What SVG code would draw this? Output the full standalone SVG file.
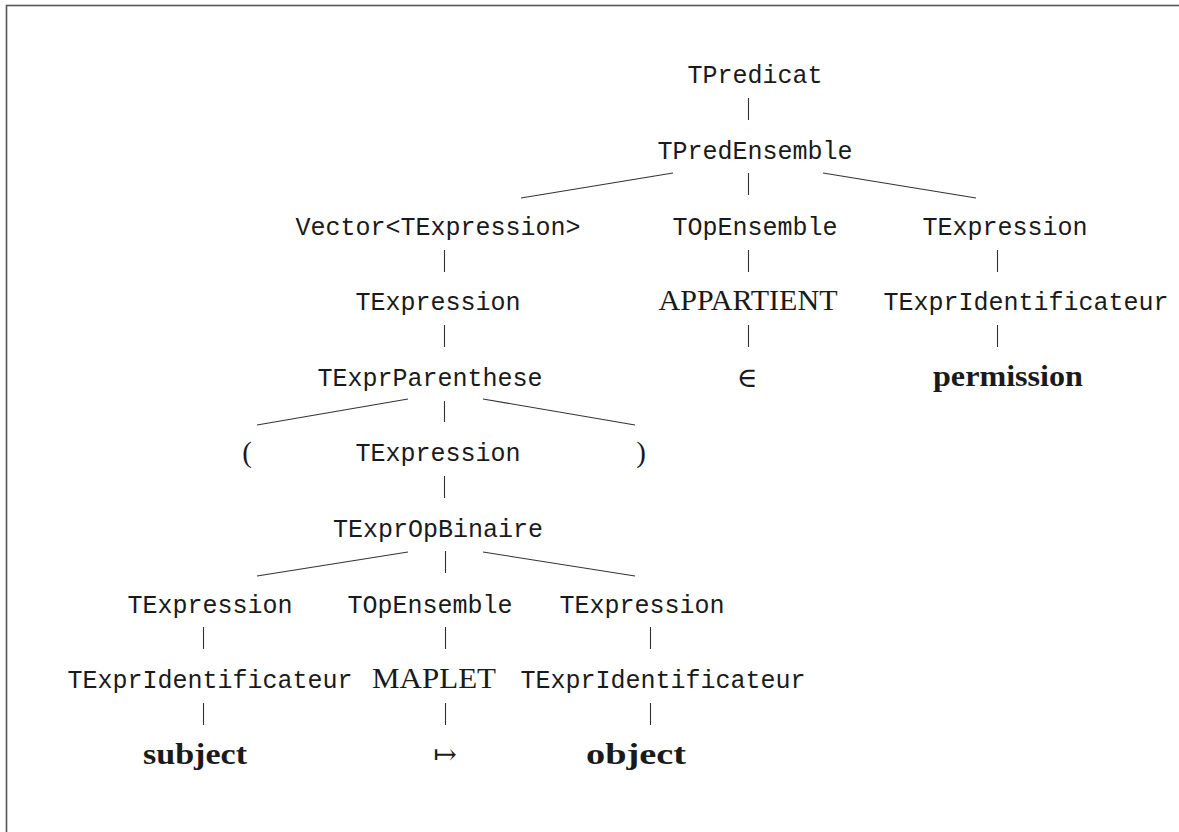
<svg xmlns="http://www.w3.org/2000/svg" width="1179" height="832" viewBox="0 0 1179 832">
<style>
.bg{fill:#fff}
.frame{fill:none;stroke:#555;stroke-width:1.6}
.tt{font-family:"Liberation Mono","DejaVu Sans Mono",monospace;font-size:25px;fill:#1a1a1a;text-anchor:middle}
.rm{font-family:"Liberation Serif","DejaVu Serif",serif;font-size:29px;fill:#1a1a1a;text-anchor:middle}
.bf{font-family:"Liberation Serif","DejaVu Serif",serif;font-size:30px;font-weight:bold;fill:#1a1a1a;text-anchor:middle}
.sym{font-family:"DejaVu Serif","Liberation Serif",serif;font-size:28px;fill:#1a1a1a;text-anchor:middle}
.edge{stroke:#333;stroke-width:1.1;fill:none}
</style>
<rect class="bg" x="0" y="0" width="1179" height="832"/>
<rect class="frame" x="6.5" y="5.5" width="1200" height="900"/>
<g id="connectors">
<line class="edge" x1="748.5" y1="98" x2="748.5" y2="120"/>
<line class="edge" x1="748.5" y1="173" x2="748.5" y2="195"/>
<line class="edge" x1="673" y1="173" x2="521" y2="198"/>
<line class="edge" x1="823" y1="173" x2="976" y2="198"/>
<line class="edge" x1="444.5" y1="250" x2="444.5" y2="272"/>
<line class="edge" x1="748.5" y1="250" x2="748.5" y2="272"/>
<line class="edge" x1="997.5" y1="250" x2="997.5" y2="272"/>
<line class="edge" x1="444.5" y1="325" x2="444.5" y2="347"/>
<line class="edge" x1="748.5" y1="325" x2="748.5" y2="347"/>
<line class="edge" x1="997.5" y1="325" x2="997.5" y2="347"/>
<line class="edge" x1="444.5" y1="401" x2="444.5" y2="422"/>
<line class="edge" x1="408" y1="399" x2="257" y2="425"/>
<line class="edge" x1="483" y1="399" x2="635" y2="425"/>
<line class="edge" x1="444.5" y1="476" x2="444.5" y2="498"/>
<line class="edge" x1="445.5" y1="551" x2="445.5" y2="573"/>
<line class="edge" x1="408" y1="552" x2="257" y2="576"/>
<line class="edge" x1="483" y1="552" x2="635" y2="576"/>
<line class="edge" x1="203.5" y1="627" x2="203.5" y2="649"/>
<line class="edge" x1="445.5" y1="627" x2="445.5" y2="649"/>
<line class="edge" x1="650.5" y1="627" x2="650.5" y2="649"/>
<line class="edge" x1="203.5" y1="703" x2="203.5" y2="725"/>
<line class="edge" x1="445.5" y1="703" x2="445.5" y2="725"/>
<line class="edge" x1="650.5" y1="703" x2="650.5" y2="725"/>
</g>
<g id="n-tpredicat"><text class="tt" x="755" y="83">TPredicat</text></g>
<g id="n-tpredensemble"><text class="tt" x="755" y="159">TPredEnsemble</text></g>
<g id="n-vector"><text class="tt" x="438" y="235">Vector&lt;TExpression&gt;</text></g>
<g id="n-topensemble1"><text class="tt" x="755" y="235">TOpEnsemble</text></g>
<g id="n-texpression-r"><text class="tt" x="1005" y="235">TExpression</text></g>
<g id="n-texpression-a"><text class="tt" x="438" y="310">TExpression</text></g>
<g id="n-appartient"><text class="rm" x="748" y="310" textLength="179" lengthAdjust="spacingAndGlyphs">APPARTIENT</text></g>
<g id="n-texprid-r"><text class="tt" x="1026" y="310">TExprIdentificateur</text></g>
<g id="n-texprparenthese"><text class="tt" x="430" y="386">TExprParenthese</text></g>
<g id="n-in"><text class="sym" x="747" y="387">∈</text></g>
<g id="n-permission"><text class="bf" x="1008" y="386" textLength="150" lengthAdjust="spacingAndGlyphs">permission</text></g>
<g id="n-lparen"><text class="rm" x="247" y="462">(</text></g>
<g id="n-texpression-b"><text class="tt" x="438" y="461">TExpression</text></g>
<g id="n-rparen"><text class="rm" x="641" y="462">)</text></g>
<g id="n-texpropbinaire"><text class="tt" x="438" y="537">TExprOpBinaire</text></g>
<g id="n-texpression-l"><text class="tt" x="210" y="613">TExpression</text></g>
<g id="n-topensemble2"><text class="tt" x="430" y="613">TOpEnsemble</text></g>
<g id="n-texpression-m"><text class="tt" x="642" y="613">TExpression</text></g>
<g id="n-texprid-l"><text class="tt" x="210" y="688">TExprIdentificateur</text></g>
<g id="n-maplet"><text class="rm" x="434" y="688" textLength="124" lengthAdjust="spacingAndGlyphs">MAPLET</text></g>
<g id="n-texprid-m"><text class="tt" x="663" y="688">TExprIdentificateur</text></g>
<g id="n-subject"><text class="bf" x="195" y="764" textLength="104" lengthAdjust="spacingAndGlyphs">subject</text></g>
<g id="n-mapsto"><text class="sym" x="445" y="764">↦</text></g>
<g id="n-object"><text class="bf" x="636" y="764" textLength="100" lengthAdjust="spacingAndGlyphs">object</text></g>
</svg>
